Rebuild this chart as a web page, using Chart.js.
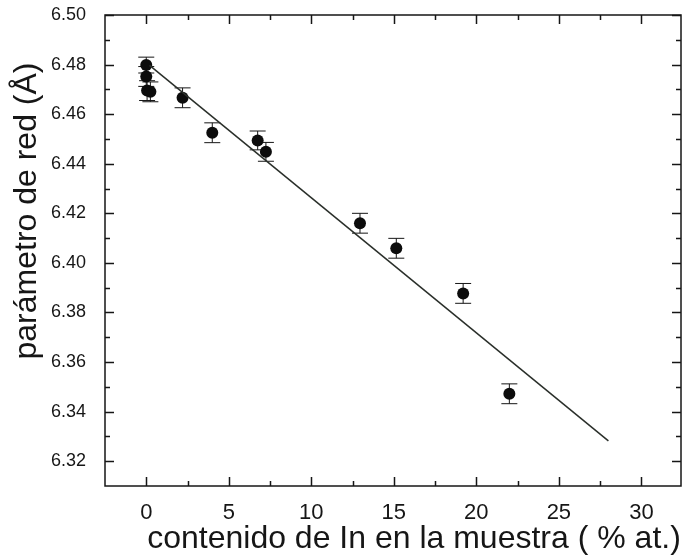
<!DOCTYPE html>
<html>
<head>
<meta charset="utf-8">
<script src="https://cdn.jsdelivr.net/npm/chart.js@4/dist/chart.umd.min.js"></script>
<style>
  html, body { margin: 0; padding: 0; background: #ffffff; }
  canvas { display: block; }
</style>
</head>
<body>
<canvas id="c" width="683" height="558"></canvas>
<script>
// In content (% at.) and measured lattice parameter (Å) with its uncertainty
const inContent = [0, 0, 0.05, 0.25, 2.2, 4.0, 6.75, 7.25, 12.95, 15.15, 19.2, 22.0];
const latticeParam = [6.4798, 6.4752, 6.4695, 6.4690, 6.4666, 6.4525, 6.4494, 6.4448, 6.4160, 6.4059, 6.3877, 6.3472];
const latticeErr = [0.0032, 0.004, 0.004, 0.004, 0.004, 0.004, 0.0038, 0.0038, 0.004, 0.004, 0.004, 0.004];

// Linear fit, drawn between its two end points
const fitX = [0.2, 28.0];
const fitY = [6.4797, 6.3282];

// Axis ticks
const xTicks = [0, 5, 10, 15, 20, 25, 30];
const xMinorTicks = [2.5, 7.5, 12.5, 17.5, 22.5, 27.5];
const yTicks = [6.32, 6.34, 6.36, 6.38, 6.40, 6.42, 6.44, 6.46, 6.48, 6.50];
const yMinorTicks = [6.33, 6.35, 6.37, 6.39, 6.41, 6.43, 6.45, 6.47, 6.49];

const xTitle = 'contenido de In en la muestra ( % at.)';
const yTitle = 'parámetro de red (Å)';

const FONT = '"Liberation Sans", Arial, Helvetica, sans-serif';
const INK = '#161616';

// Vertical error bars with caps, drawn under the markers
const errorBars = {
  id: 'errorBars',
  beforeDatasetsDraw(chart) {
    const { ctx, scales: { x, y } } = chart;
    ctx.save();
    ctx.strokeStyle = INK;
    ctx.lineWidth = 1;
    inContent.forEach((v, i) => {
      const px = x.getPixelForValue(v);
      const top = y.getPixelForValue(latticeParam[i] + latticeErr[i]);
      const bot = y.getPixelForValue(latticeParam[i] - latticeErr[i]);
      ctx.beginPath();
      ctx.moveTo(px, top); ctx.lineTo(px, bot);
      ctx.moveTo(px - 8, top); ctx.lineTo(px + 8, top);
      ctx.moveTo(px - 8, bot); ctx.lineTo(px + 8, bot);
      ctx.stroke();
    });
    ctx.restore();
  }
};

// Closed frame with inward ticks on all four sides, plus the axis titles
const frame = {
  id: 'frame',
  afterDraw(chart) {
    const { ctx, chartArea: a, scales: { x, y } } = chart;
    ctx.save();
    ctx.strokeStyle = INK;
    ctx.lineWidth = 1.5;
    ctx.strokeRect(a.left, a.top, a.right - a.left, a.bottom - a.top);
    ctx.beginPath();
    const xt = (vals, len) => vals.forEach(v => {
      const p = Math.round(x.getPixelForValue(v)) + 0.5;
      ctx.moveTo(p, a.bottom); ctx.lineTo(p, a.bottom - len);
      ctx.moveTo(p, a.top); ctx.lineTo(p, a.top + len);
    });
    const yt = (vals, len) => vals.forEach(v => {
      const p = Math.round(y.getPixelForValue(v)) + 0.5;
      ctx.moveTo(a.left, p); ctx.lineTo(a.left + len, p);
      ctx.moveTo(a.right, p); ctx.lineTo(a.right - len, p);
    });
    xt(xTicks, 9); xt(xMinorTicks, 5);
    yt(yTicks, 9); yt(yMinorTicks, 5);
    ctx.stroke();

    ctx.fillStyle = INK;
    ctx.font = '32px ' + FONT;
    ctx.textAlign = 'center';
    ctx.textBaseline = 'alphabetic';
    ctx.fillText(xTitle, 414, 548);
    ctx.translate(36, 211);
    ctx.rotate(-Math.PI / 2);
    ctx.fillText(yTitle, 0, 0);
    ctx.restore();
  }
};

new Chart(document.getElementById('c'), {
  type: 'scatter',
  data: {
    datasets: [
      {
        label: 'ajuste',
        type: 'line',
        data: fitX.map((v, i) => ({ x: v, y: fitY[i] })),
        borderColor: '#2a2f2a',
        borderWidth: 1.5,
        pointRadius: 0,
        fill: false,
        tension: 0
      },
      {
        label: 'parámetro de red',
        data: inContent.map((v, i) => ({ x: v, y: latticeParam[i] })),
        backgroundColor: '#0c0c0c',
        borderColor: '#0c0c0c',
        pointRadius: 6,
        pointBorderWidth: 0
      }
    ]
  },
  options: {
    responsive: false,
    animation: false,
    layout: { autoPadding: false, padding: { top: 15, right: 2, left: 0, bottom: 0 } },
    plugins: { legend: { display: false }, tooltip: { enabled: false } },
    scales: {
      x: {
        type: 'linear',
        min: -2.5,
        max: 32.4,
        grid: { display: false },
        border: { display: false },
        afterBuildTicks: s => { s.ticks = xTicks.map(v => ({ value: v })); },
        afterFit: s => { s.height = 72; s.paddingLeft = 0; s.paddingRight = 0; },
        ticks: {
          padding: 6,
          color: INK,
          font: { family: FONT, size: 22 },
          callback: v => String(v)
        }
      },
      y: {
        type: 'linear',
        min: 6.31,
        max: 6.50,
        grid: { display: false },
        border: { display: false },
        afterBuildTicks: s => { s.ticks = yTicks.map(v => ({ value: v })); },
        afterFit: s => { s.width = 105; s.paddingTop = 0; s.paddingBottom = 0; },
        ticks: {
          padding: 11,
          color: INK,
          font: { family: FONT, size: 18 },
          callback: v => Number(v).toFixed(2)
        }
      }
    }
  },
  plugins: [errorBars, frame]
});
</script>
</body>
</html>
